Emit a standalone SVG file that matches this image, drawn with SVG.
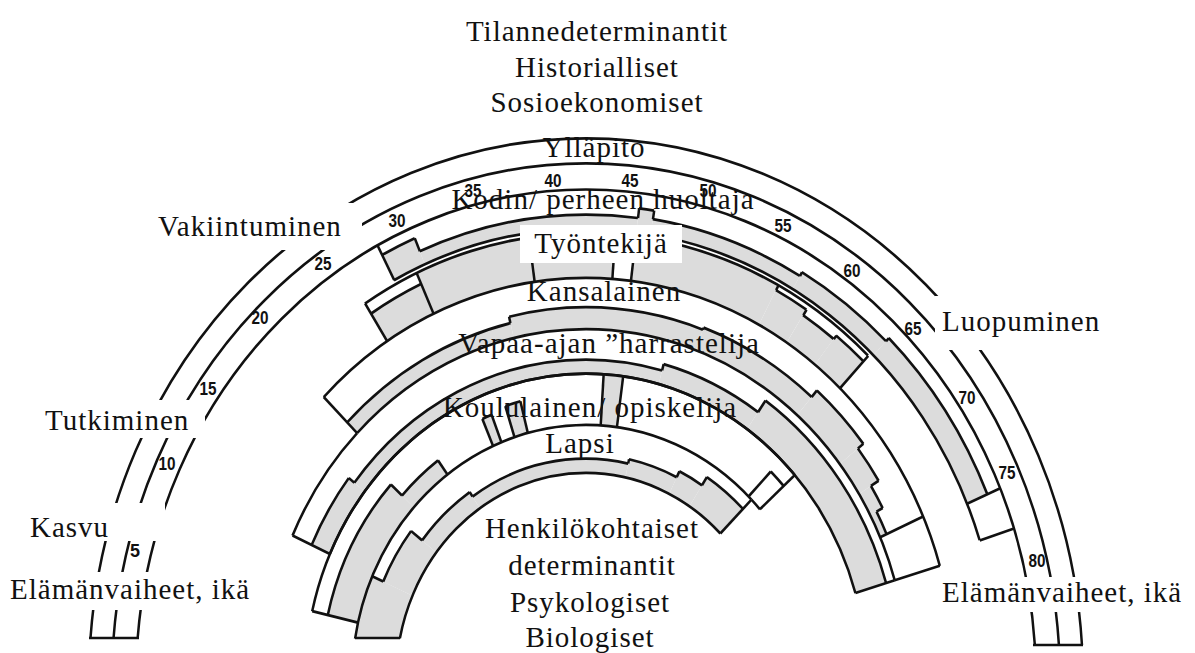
<svg xmlns="http://www.w3.org/2000/svg" width="1195" height="653" viewBox="0 0 1195 653">
  <style>
    .ln { fill: none; stroke: #111; stroke-width: 2.5; }
    .gy { fill: none; stroke: #dcdcdc; }
    .lbl { font-family: "Liberation Serif", "Times New Roman", serif; font-size: 29px; letter-spacing: 1px; fill: #111; }
    .mid { text-anchor: middle; }
    .age { font-family: "Liberation Sans", Arial, sans-serif; font-size: 18px; font-weight: bold; fill: #111; text-anchor: middle; }
    .box { fill: #fff; }
  </style>
  <defs>
    <clipPath id="floor">
      <rect x="0" y="0" width="1195" height="638.5"/>
    </clipPath>
  </defs>
  <rect width="1195" height="653" fill="#fff"/>

  <!-- Arcs are drawn as dashed circles: pathLength 360, so dash length and offset are in degrees.
       Offset -(270 + start) starts the dash at "start" degrees from the top. -->

  <!-- Life stages / age scale -->
  <g id="age-scale">
    <g transform="translate(586 680) scale(1 1.09)">
      <circle class="ln" r="497" pathLength="360" stroke-dasharray="171.85 360" stroke-dashoffset="-184.45"/>
      <circle class="ln" r="474" pathLength="360" stroke-dasharray="171.44 360" stroke-dashoffset="-184.66"/>
      <circle class="ln" r="450" pathLength="360" stroke-dasharray="170.99 360" stroke-dashoffset="-184.91"/>
    </g>
    <path class="ln" d="M89 638H139M1033 645H1083"/>
  </g>

  <!-- Role: home / family -->
  <g id="role-home">
    <g transform="translate(586 680) scale(1 1.09)">
      <circle class="gy" r="427" stroke-width="26" pathLength="360" stroke-dasharray="4.7 360" stroke-dashoffset="-242.4"/>
      <circle class="gy" r="420.5" stroke-width="13" pathLength="360" stroke-dasharray="29.9 360" stroke-dashoffset="-247.1"/>
      <circle class="gy" r="425" stroke-width="22" pathLength="360" stroke-dasharray="2 360" stroke-dashoffset="-277"/>
      <circle class="gy" r="421" stroke-width="14" pathLength="360" stroke-dasharray="21 360" stroke-dashoffset="-279"/>
      <circle class="gy" r="423" stroke-width="18" pathLength="360" stroke-dasharray="14 360" stroke-dashoffset="-300"/>
      <circle class="gy" r="425" stroke-width="22" pathLength="360" stroke-dasharray="23 360" stroke-dashoffset="-314"/>
      <circle class="ln" r="414" pathLength="360" stroke-dasharray="99.6 360" stroke-dashoffset="-242.4"/>
      <circle class="ln" r="440" pathLength="360" stroke-dasharray="4.7 360" stroke-dashoffset="-242.4"/>
      <circle class="ln" r="427" pathLength="360" stroke-dasharray="29.9 360" stroke-dashoffset="-247.1"/>
      <circle class="ln" r="436" pathLength="360" stroke-dasharray="2 360" stroke-dashoffset="-277"/>
      <circle class="ln" r="428" pathLength="360" stroke-dasharray="21 360" stroke-dashoffset="-279"/>
      <circle class="ln" r="432" pathLength="360" stroke-dasharray="14 360" stroke-dashoffset="-300"/>
      <circle class="ln" r="436" pathLength="360" stroke-dasharray="23 360" stroke-dashoffset="-314"/>
      <line class="ln" y1="-414" y2="-450" transform="rotate(-27.6)"/>
      <line class="ln" y1="-427" y2="-440" transform="rotate(-22.9)"/>
      <line class="ln" y1="-427" y2="-436" transform="rotate(7)"/>
      <line class="ln" y1="-428" y2="-436" transform="rotate(9)"/>
      <line class="ln" y1="-428" y2="-432" transform="rotate(30)"/>
      <line class="ln" y1="-432" y2="-436" transform="rotate(44)"/>
      <line class="ln" y1="-414" y2="-450" transform="rotate(67)"/>
      <line class="ln" y1="-414" y2="-450" transform="rotate(72)"/>
    </g>
  </g>

  <!-- Role: worker -->
  <g id="role-worker">
    <g transform="translate(586 680) scale(1 1.09)">
      <circle class="gy" r="384" stroke-width="30" pathLength="360" stroke-dasharray="8.2 360" stroke-dashoffset="-237.4"/>
      <circle class="gy" r="389.5" stroke-width="41" pathLength="360" stroke-dasharray="28.5 360" stroke-dashoffset="-245.6"/>
      <circle class="gy" r="389.5" stroke-width="41" pathLength="360" stroke-dasharray="21 360" stroke-dashoffset="-277"/>
      <circle class="gy" r="387" stroke-width="36" pathLength="360" stroke-dasharray="5 360" stroke-dashoffset="-298"/>
      <circle class="gy" r="384" stroke-width="30" pathLength="360" stroke-dasharray="5.4 360" stroke-dashoffset="-303"/>
      <circle class="gy" r="386" stroke-width="34" pathLength="360" stroke-dasharray="5.1 360" stroke-dashoffset="-308.4"/>
      <circle class="ln" r="410" pathLength="360" stroke-dasharray="76.1 360" stroke-dashoffset="-237.4"/>
      <circle class="ln" r="399" pathLength="360" stroke-dasharray="8.2 360" stroke-dashoffset="-237.4"/>
      <circle class="ln" r="405" pathLength="360" stroke-dasharray="5 360" stroke-dashoffset="-298"/>
      <circle class="ln" r="399" pathLength="360" stroke-dasharray="5.4 360" stroke-dashoffset="-303"/>
      <circle class="ln" r="403" pathLength="360" stroke-dasharray="5.1 360" stroke-dashoffset="-308.4"/>
      <line class="ln" y1="-369" y2="-410" transform="rotate(-32.6)"/>
      <line class="ln" y1="-369" y2="-410" transform="rotate(-24.4)"/>
      <line class="ln" y1="-369" y2="-410" transform="rotate(-8)"/>
      <line class="ln" y1="-369" y2="-410" transform="rotate(4.1)"/>
      <line class="ln" y1="-369" y2="-410" transform="rotate(7)"/>
      <line class="ln" y1="-405" y2="-410" transform="rotate(28)"/>
      <line class="ln" y1="-399" y2="-405" transform="rotate(33)"/>
      <line class="ln" y1="-399" y2="-403" transform="rotate(38.4)"/>
      <line class="ln" y1="-369" y2="-410" transform="rotate(43.5)"/>
    </g>
  </g>

  <!-- Role: citizen -->
  <g id="role-citizen">
    <g transform="translate(586 680) scale(1 1.09)">
      <circle class="gy" r="329" stroke-width="14" pathLength="360" stroke-dasharray="32.3 360" stroke-dashoffset="-224.7"/>
      <circle class="gy" r="332" stroke-width="20" pathLength="360" stroke-dasharray="33 360" stroke-dashoffset="-257"/>
      <circle class="gy" r="333" stroke-width="22" pathLength="360" stroke-dasharray="21 360" stroke-dashoffset="-290"/>
      <circle class="gy" r="337" stroke-width="30" pathLength="360" stroke-dasharray="11 360" stroke-dashoffset="-311"/>
      <circle class="gy" r="333.5" stroke-width="23" pathLength="360" stroke-dasharray="6 360" stroke-dashoffset="-322"/>
      <circle class="gy" r="329" stroke-width="14" pathLength="360" stroke-dasharray="4 360" stroke-dashoffset="-328"/>
      <circle class="gy" r="325.5" stroke-width="7" pathLength="360" stroke-dasharray="4 360" stroke-dashoffset="-332"/>
      <circle class="ln" r="369" pathLength="360" stroke-dasharray="118.8 360" stroke-dashoffset="-224.7"/>
      <circle class="ln" r="322" pathLength="360" stroke-dasharray="118.8 360" stroke-dashoffset="-224.7"/>
      <circle class="ln" r="336" pathLength="360" stroke-dasharray="32.3 360" stroke-dashoffset="-224.7"/>
      <circle class="ln" r="342" pathLength="360" stroke-dasharray="33 360" stroke-dashoffset="-257"/>
      <circle class="ln" r="344" pathLength="360" stroke-dasharray="21 360" stroke-dashoffset="-290"/>
      <circle class="ln" r="352" pathLength="360" stroke-dasharray="11 360" stroke-dashoffset="-311"/>
      <circle class="ln" r="345" pathLength="360" stroke-dasharray="6 360" stroke-dashoffset="-322"/>
      <circle class="ln" r="336" pathLength="360" stroke-dasharray="4 360" stroke-dashoffset="-328"/>
      <circle class="ln" r="329" pathLength="360" stroke-dasharray="4 360" stroke-dashoffset="-332"/>
      <line class="ln" y1="-322" y2="-369" transform="rotate(-45.3)"/>
      <line class="ln" y1="-336" y2="-342" transform="rotate(-13)"/>
      <line class="ln" y1="-342" y2="-344" transform="rotate(20)"/>
      <line class="ln" y1="-344" y2="-352" transform="rotate(41)"/>
      <line class="ln" y1="-345" y2="-352" transform="rotate(52)"/>
      <line class="ln" y1="-336" y2="-345" transform="rotate(58)"/>
      <line class="ln" y1="-329" y2="-336" transform="rotate(62)"/>
      <line class="ln" y1="-322" y2="-369" transform="rotate(66)"/>
      <line class="ln" y1="-322" y2="-369" transform="rotate(73.5)"/>
    </g>
  </g>

  <!-- Role: leisure -->
  <g id="role-leisure">
    <g transform="translate(586 680) scale(1 1.09)">
      <circle class="gy" r="291" stroke-width="20" pathLength="360" stroke-dasharray="13.7 360" stroke-dashoffset="-204.3"/>
      <circle class="gy" r="287.5" stroke-width="13" pathLength="360" stroke-dasharray="67 360" stroke-dashoffset="-218"/>
      <circle class="gy" r="290.5" stroke-width="19" pathLength="360" stroke-dasharray="20 360" stroke-dashoffset="-285"/>
      <circle class="gy" r="297" stroke-width="32" pathLength="360" stroke-dasharray="38.5 360" stroke-dashoffset="-305"/>
      <circle class="ln" r="281" pathLength="360" stroke-dasharray="139.2 360" stroke-dashoffset="-204.3"/>
      <circle class="ln" r="322" pathLength="360" stroke-dasharray="20.4 360" stroke-dashoffset="-204.3"/>
      <circle class="ln" r="301" pathLength="360" stroke-dasharray="13.7 360" stroke-dashoffset="-204.3"/>
      <circle class="ln" r="294" pathLength="360" stroke-dasharray="67 360" stroke-dashoffset="-218"/>
      <circle class="ln" r="300" pathLength="360" stroke-dasharray="20 360" stroke-dashoffset="-285"/>
      <circle class="ln" r="313" pathLength="360" stroke-dasharray="38.5 360" stroke-dashoffset="-305"/>
      <line class="ln" y1="-281" y2="-322" transform="rotate(-65.7)"/>
      <line class="ln" y1="-294" y2="-301" transform="rotate(-52)"/>
      <line class="ln" y1="-294" y2="-300" transform="rotate(15)"/>
      <line class="ln" y1="-300" y2="-313" transform="rotate(35)"/>
      <line class="ln" y1="-281" y2="-322" transform="rotate(73.5)"/>
    </g>
  </g>

  <!-- Role: student -->
  <g id="role-student">
    <g transform="translate(586 680) scale(1 1.09)">
      <circle class="gy" r="249.5" stroke-width="31" pathLength="360" stroke-dasharray="29.6 360" stroke-dashoffset="-193"/>
      <circle class="gy" r="242" stroke-width="16" pathLength="360" stroke-dasharray="11.1 360" stroke-dashoffset="-222.6"/>
      <circle class="gy" r="247.5" stroke-width="27" pathLength="360" stroke-dasharray="2.2 360" stroke-dashoffset="-246.6"/>
      <circle class="gy" r="249" stroke-width="30" pathLength="360" stroke-dasharray="3.4 360" stroke-dashoffset="-252.2"/>
      <circle class="gy" r="257.5" stroke-width="47" pathLength="360" stroke-dasharray="4 360" stroke-dashoffset="-273.6"/>
      <circle class="ln" r="281" pathLength="360" stroke-dasharray="125 360" stroke-dashoffset="-193"/>
      <circle class="ln" r="234" pathLength="360" stroke-dasharray="3 360" stroke-dashoffset="-315"/>
      <circle class="ln" r="265" pathLength="360" stroke-dasharray="29.6 360" stroke-dashoffset="-193"/>
      <circle class="ln" r="250" pathLength="360" stroke-dasharray="11.1 360" stroke-dashoffset="-222.6"/>
      <circle class="ln" r="261" pathLength="360" stroke-dasharray="2.2 360" stroke-dashoffset="-246.6"/>
      <circle class="ln" r="264" pathLength="360" stroke-dasharray="3.4 360" stroke-dashoffset="-252.2"/>
      <circle class="ln" r="266" pathLength="360" stroke-dasharray="4 360" stroke-dashoffset="-314"/>
      <line class="ln" y1="-234" y2="-281" transform="rotate(-77)"/>
      <line class="ln" y1="-250" y2="-265" transform="rotate(-47.4)"/>
      <line class="ln" y1="-234" y2="-250" transform="rotate(-36.3)"/>
      <line class="ln" y1="-234" y2="-261" transform="rotate(-23.4)"/>
      <line class="ln" y1="-234" y2="-261" transform="rotate(-21.2)"/>
      <line class="ln" y1="-234" y2="-264" transform="rotate(-17.8)"/>
      <line class="ln" y1="-234" y2="-264" transform="rotate(-14.4)"/>
      <line class="ln" y1="-234" y2="-281" transform="rotate(3.6)"/>
      <line class="ln" y1="-234" y2="-281" transform="rotate(7.6)"/>
      <line class="ln" y1="-234" y2="-266" transform="rotate(44)"/>
      <line class="ln" y1="-234" y2="-281" transform="rotate(48)"/>
    </g>
  </g>

  <!-- Role: child -->
  <g id="role-child">
    <g clip-path="url(#floor)">
      <g transform="translate(586 680) scale(1 1.09)">
        <circle class="gy" r="212" stroke-width="44" pathLength="360" stroke-dasharray="20 360" stroke-dashoffset="-184"/>
        <circle class="gy" r="206" stroke-width="32" pathLength="360" stroke-dasharray="14 360" stroke-dashoffset="-204"/>
        <circle class="gy" r="199" stroke-width="18" pathLength="360" stroke-dasharray="18 360" stroke-dashoffset="-218"/>
        <circle class="gy" r="196.5" stroke-width="13" pathLength="360" stroke-dasharray="46 360" stroke-dashoffset="-236"/>
        <circle class="gy" r="198.5" stroke-width="17" pathLength="360" stroke-dasharray="14 360" stroke-dashoffset="-282"/>
        <circle class="gy" r="201.5" stroke-width="23" pathLength="360" stroke-dasharray="7 360" stroke-dashoffset="-296"/>
        <circle class="gy" r="206" stroke-width="32" pathLength="360" stroke-dasharray="12 360" stroke-dashoffset="-303"/>
        <circle class="ln" r="234" pathLength="360" stroke-dasharray="131 360" stroke-dashoffset="-184"/>
        <circle class="ln" r="190" pathLength="360" stroke-dasharray="131 360" stroke-dashoffset="-184"/>
        <circle class="ln" r="222" pathLength="360" stroke-dasharray="14 360" stroke-dashoffset="-204"/>
        <circle class="ln" r="208" pathLength="360" stroke-dasharray="18 360" stroke-dashoffset="-218"/>
        <circle class="ln" r="203" pathLength="360" stroke-dasharray="46 360" stroke-dashoffset="-236"/>
        <circle class="ln" r="207" pathLength="360" stroke-dasharray="14 360" stroke-dashoffset="-282"/>
        <circle class="ln" r="213" pathLength="360" stroke-dasharray="7 360" stroke-dashoffset="-296"/>
        <circle class="ln" r="222" pathLength="360" stroke-dasharray="12 360" stroke-dashoffset="-303"/>
        <line class="ln" y1="-222" y2="-234" transform="rotate(-66)"/>
        <line class="ln" y1="-208" y2="-222" transform="rotate(-52)"/>
        <line class="ln" y1="-203" y2="-208" transform="rotate(-34)"/>
        <line class="ln" y1="-203" y2="-207" transform="rotate(12)"/>
        <line class="ln" y1="-207" y2="-213" transform="rotate(26)"/>
        <line class="ln" y1="-213" y2="-222" transform="rotate(33)"/>
        <line class="ln" y1="-190" y2="-234" transform="rotate(45)"/>
      </g>
    </g>
    <path class="ln" d="M355 638H400"/>
  </g>

  <!-- Label backgrounds that break the arcs -->
  <g id="label-boxes">
    <rect class="box" x="150" y="203" width="212" height="47"/>
    <rect class="box" x="40" y="400" width="165" height="38"/>
    <rect class="box" x="25" y="503" width="140" height="38"/>
    <rect class="box" x="5" y="572" width="240" height="38"/>
    <rect class="box" x="935" y="296" width="175" height="54"/>
    <rect class="box" x="935" y="577" width="260" height="35"/>
    <rect class="box" x="520" y="225" width="162" height="38"/>
  </g>

  <!-- Age numbers -->
  <g id="ages">
    <text class="age" x="135" y="557">5</text>
    <text class="age" x="167" y="470" textLength="17" lengthAdjust="spacingAndGlyphs">10</text>
    <text class="age" x="208" y="395" textLength="17" lengthAdjust="spacingAndGlyphs">15</text>
    <text class="age" x="260" y="324" textLength="17" lengthAdjust="spacingAndGlyphs">20</text>
    <text class="age" x="323" y="270" textLength="17" lengthAdjust="spacingAndGlyphs">25</text>
    <text class="age" x="397" y="227" textLength="17" lengthAdjust="spacingAndGlyphs">30</text>
    <text class="age" x="473" y="197" textLength="17" lengthAdjust="spacingAndGlyphs">35</text>
    <text class="age" x="553" y="187" textLength="17" lengthAdjust="spacingAndGlyphs">40</text>
    <text class="age" x="630" y="187" textLength="17" lengthAdjust="spacingAndGlyphs">45</text>
    <text class="age" x="708" y="197" textLength="17" lengthAdjust="spacingAndGlyphs">50</text>
    <text class="age" x="783" y="232" textLength="17" lengthAdjust="spacingAndGlyphs">55</text>
    <text class="age" x="852" y="277" textLength="17" lengthAdjust="spacingAndGlyphs">60</text>
    <text class="age" x="913" y="335" textLength="17" lengthAdjust="spacingAndGlyphs">65</text>
    <text class="age" x="967" y="404" textLength="17" lengthAdjust="spacingAndGlyphs">70</text>
    <text class="age" x="1007" y="479" textLength="17" lengthAdjust="spacingAndGlyphs">75</text>
    <text class="age" x="1037" y="567" textLength="17" lengthAdjust="spacingAndGlyphs">80</text>
  </g>

  <!-- Headings and stage / role labels -->
  <g id="labels">
    <text class="lbl mid" x="597" y="41">Tilannedeterminantit</text>
    <text class="lbl mid" x="597" y="77">Historialliset</text>
    <text class="lbl mid" x="597" y="112">Sosioekonomiset</text>
    <text class="lbl mid" x="594" y="157">Ylläpito</text>
    <text class="lbl mid" x="250" y="236">Vakiintuminen</text>
    <text class="lbl" x="942" y="331">Luopuminen</text>
    <text class="lbl" x="45" y="430">Tutkiminen</text>
    <text class="lbl" x="30" y="537">Kasvu</text>
    <text class="lbl" x="10" y="599">Elämänvaiheet, ikä</text>
    <text class="lbl" x="942" y="602">Elämänvaiheet, ikä</text>
    <text class="lbl mid" x="603" y="209">Kodin/ perheen huoltaja</text>
    <text class="lbl mid" x="601" y="253">Työntekijä</text>
    <text class="lbl mid" x="604" y="301">Kansalainen</text>
    <text class="lbl mid" x="609" y="353">Vapaa-ajan ”harrastelija</text>
    <text class="lbl mid" x="590" y="417">Koululainen/ opiskelija</text>
    <text class="lbl mid" x="580" y="453">Lapsi</text>
    <text class="lbl mid" x="592" y="538">Henkilökohtaiset</text>
    <text class="lbl mid" x="592" y="575">determinantit</text>
    <text class="lbl mid" x="590" y="612">Psykologiset</text>
    <text class="lbl mid" x="590" y="647">Biologiset</text>
  </g>
</svg>
